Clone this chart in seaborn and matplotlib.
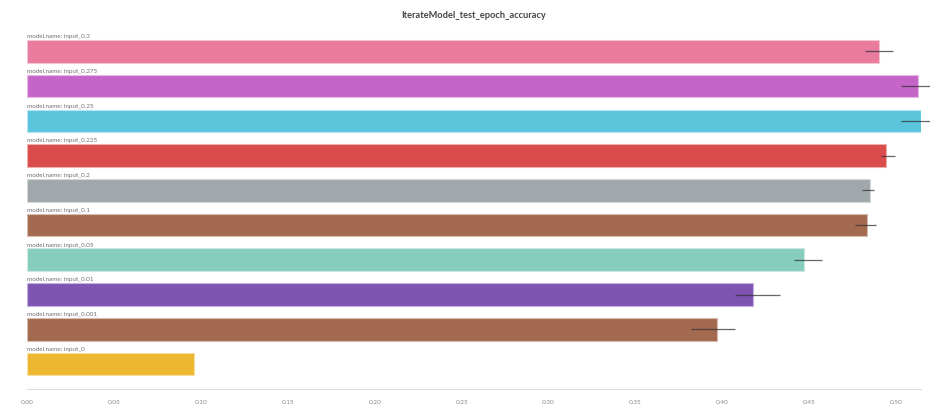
import matplotlib
matplotlib.use("Agg")
import matplotlib.pyplot as plt
import matplotlib.colors as mcolors
import numpy as np
import pandas as pd
import seaborn as sns

# Run names, mean test accuracy and spread across seeds
runs = ["input_0.3", "input_0.275", "input_0.25", "input_0.225", "input_0.2",
        "input_0.1", "input_0.05", "input_0.01", "input_0.001", "input_0"]
accuracy = [0.4904, 0.5128, 0.5142, 0.4944, 0.4848,
            0.4835, 0.4468, 0.4177, 0.3971, 0.0962]
err_low = [0.4823, 0.5031, 0.5031, 0.4911, 0.4802,
           0.4764, 0.4413, 0.4075, 0.3821, 0.0962]
err_high = [0.4983, 0.5226, 0.5249, 0.4994, 0.4874,
            0.4883, 0.4574, 0.4334, 0.4075, 0.0962]
colors = ["#E97B9E", "#C565C7", "#5BC5DB", "#DA4C4C", "#A1A8AB",
          "#A46A50", "#87CEBE", "#7E53B1", "#A46A50", "#EDB732"]
xticks = [0.00, 0.05, 0.10, 0.15, 0.20, 0.25, 0.30, 0.35, 0.40, 0.45, 0.50]

sns.set_theme(style="white")
plt.rcParams["font.family"] = ["Lato", "DejaVu Sans"]

df = pd.DataFrame({"run": runs, "accuracy": accuracy})

fig = plt.figure(figsize=(9.30, 4.06), dpi=100)
ax = fig.add_axes([27.3 / 930, 1 - 390 / 406, (920.7 - 27.3) / 930, (390 - 35) / 406])

sns.barplot(data=df, x="accuracy", y="run", hue="run", palette=colors,
            order=runs, hue_order=runs, errorbar=None, width=0.65,
            legend=False, ax=ax, saturation=1)

# light outline around each bar
for patch, c in zip(ax.patches, colors):
    rgb = np.array(mcolors.to_rgb(c))
    edge = rgb + (1 - rgb) * 0.55
    patch.set_edgecolor(edge)
    patch.set_linewidth(0.8)

# spread across seeds
ypos = np.arange(len(runs))
for y, lo, hi in zip(ypos, err_low, err_high):
    if hi > lo:
        ax.plot([lo, hi], [y, y], color="#333333", alpha=0.75, lw=0.9,
                clip_on=False, solid_capstyle="butt", zorder=5)

# run labels above each bar
for y, name in zip(ypos, runs):
    ax.text(0, y - 0.38, f"model.name: {name}", ha="left", va="bottom",
            fontsize=4.5, color="#707070")

ax.set_xlim(0, max(accuracy))
ax.set_ylim(9.72, -0.50)
ax.set_xticks(xticks)
ax.set_xticklabels([f"{t:.2f}" for t in xticks])
ax.set_yticks([])
ax.set_xlabel("")
ax.set_ylabel("")
ax.tick_params(axis="x", colors="#dddddd", labelcolor="#888888",
               labelsize=4.6, length=3, width=0.8, direction="out", pad=4)
for side in ["left", "right", "top"]:
    ax.spines[side].set_visible(False)
ax.spines["bottom"].set_color("#dddddd")
ax.spines["bottom"].set_linewidth(0.8)

fig.text((27.3 + 920.7) / 2 / 930, 1 - 16 / 406, "IterateModel_test_epoch_accuracy",
         ha="center", va="center", fontsize=6.7, color="#444444", fontweight="bold")

fig.savefig("out.png", dpi=100)
